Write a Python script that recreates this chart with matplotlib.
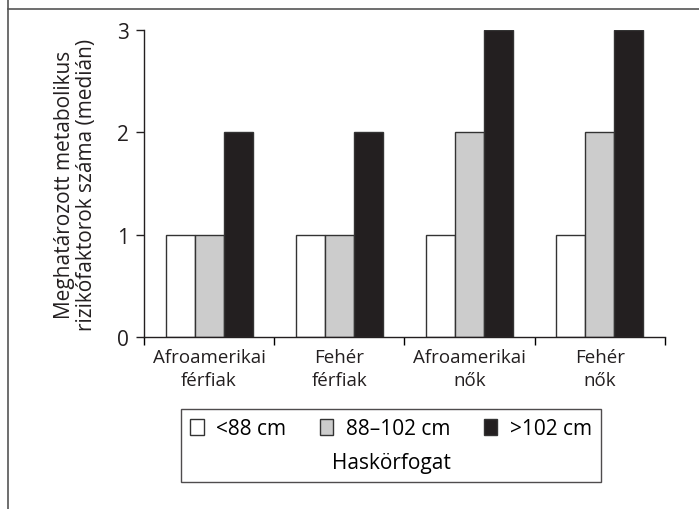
import matplotlib.pyplot as plt
import numpy as np
from matplotlib.lines import Line2D

plt.rcParams['font.family'] = ['Open Sans', 'DejaVu Sans']

groups = ["Afroamerikai\nférfiak", "Fehér\nférfiak", "Afroamerikai\nnők", "Fehér\nnők"]
series = ["<88 cm", "88\u2013102 cm", ">102 cm"]
under_88 = [1, 1, 1, 1]
mid_88_102 = [1, 1, 2, 2]
over_102 = [2, 2, 3, 3]
colors = ["white", "#cccccc", "#231f20"]
txt = "#231f20"

fig = plt.figure(figsize=(6.99, 5.10), dpi=100)
ax = fig.add_axes([0.206, 0.337, 0.745, 0.602])

x = np.arange(len(groups))
w = 0.223
for i, (vals, c, lab) in enumerate(zip([under_88, mid_88_102, over_102], colors, series)):
    ax.bar(x + (i - 1) * w, vals, w, color=c, edgecolor="#333333", linewidth=1.0, label=lab)

ax.set_xlim(-0.5, 3.5)
ax.set_ylim(0, 3)
ax.set_yticks([0, 1, 2, 3])
ax.set_xticks(np.arange(-0.5, 4, 1))
ax.set_xticklabels([])
ax.set_xticks(x, minor=True)
ax.set_xticklabels(groups, minor=True, fontsize=13.5, color=txt, linespacing=1.35)
ax.tick_params(axis="x", which="minor", length=0, pad=8)
ax.tick_params(axis="x", which="major", direction="out", length=6, width=1)
ax.tick_params(axis="y", direction="out", length=6, width=1, labelsize=15, colors=txt, pad=5)
for s in ["top", "right"]:
    ax.spines[s].set_visible(False)
for s in ["left", "bottom"]:
    ax.spines[s].set_linewidth(1.0)
    ax.spines[s].set_color(txt)

ax.set_ylabel("Meghatározott metabolikus\nrizikófaktorok száma (medián)", fontsize=15,
              color=txt, labelpad=14, linespacing=1.1)

leg = fig.legend(loc="upper center", bbox_to_anchor=(391 / 699, 1 - 410 / 510), ncol=3,
                 title="Haskörfogat", fontsize=15, title_fontsize=15, frameon=True,
                 fancybox=False, edgecolor=txt, handlelength=0.65, handleheight=0.75,
                 columnspacing=1.6, handletextpad=0.6, borderpad=0.45, labelspacing=0.3,
                 borderaxespad=0)
leg.get_frame().set_linewidth(1.0)
box = leg._legend_box
box._children = box._children[::-1]
box.sep = 9

# figure frame lines
fig.add_artist(Line2D([8 / 699, 8 / 699], [0, 1], transform=fig.transFigure, color="#555555", lw=1.2))
fig.add_artist(Line2D([8 / 699, 1], [1 - 10 / 510, 1 - 10 / 510], transform=fig.transFigure, color="#555555", lw=1.2))

fig.savefig("out.png", dpi=100)
